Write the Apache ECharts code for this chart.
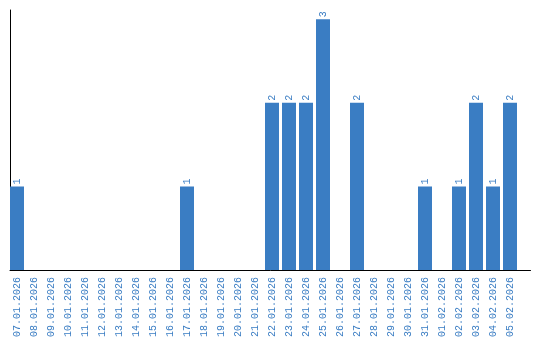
<!DOCTYPE html>
<html><head><meta charset="utf-8">
<script src="https://cdn.jsdelivr.net/npm/echarts@6/dist/echarts.min.js"></script>
<style>html,body{margin:0;padding:0;background:#fff}#c{width:540px;height:340px}</style>
</head><body><div id="c"></div>
<script>
const categories = ["07.01.2026","08.01.2026","09.01.2026","10.01.2026","11.01.2026","12.01.2026","13.01.2026","14.01.2026","15.01.2026","16.01.2026","17.01.2026","18.01.2026","19.01.2026","20.01.2026","21.01.2026","22.01.2026","23.01.2026","24.01.2026","25.01.2026","26.01.2026","27.01.2026","28.01.2026","29.01.2026","30.01.2026","31.01.2026","01.02.2026","02.02.2026","03.02.2026","04.02.2026","05.02.2026"];
const values = [1,0,0,0,0,0,0,0,0,0,1,0,0,0,0,2,2,2,3,0,2,0,0,0,1,0,1,2,1,2];

const blue = '#3a7dc3';
const font = '"Liberation Mono", monospace';
const chart = echarts.init(document.getElementById('c'), null, {renderer:'canvas'});
chart.setOption({
  animation:false,
  grid:[
    {left:8.5, width:510, top:10, bottom:70},
    {left:10, right:9.5, top:10, bottom:70}
  ],
  xAxis:[
    {type:'category', gridIndex:0, data:categories,
     axisLine:{show:false}, axisTick:{show:false},
     axisLabel:{rotate:90, interval:0, margin:7, color:blue, fontFamily:font, fontSize:10}},
    {type:'value', gridIndex:1, min:0, max:1, axisLine:{show:true, lineStyle:{color:'#000', width:1}},
     axisTick:{show:false}, axisLabel:{show:false}, splitLine:{show:false}}
  ],
  yAxis:[
    {type:'value', gridIndex:0, min:0, max:3.11, show:false, splitLine:{show:false}},
    {type:'value', gridIndex:1, min:0, max:1, axisLine:{show:true, lineStyle:{color:'#000', width:1}},
     axisTick:{show:false}, axisLabel:{show:false}, splitLine:{show:false}}
  ],
  series:[{
    type:'bar', xAxisIndex:0, yAxisIndex:0, data:values, barWidth:14,
    itemStyle:{color:blue},
    label:{show:true, position:'top', rotate:90, align:'left', verticalAlign:'middle', distance:2,
      color:blue, fontFamily:font, fontSize:10,
      formatter:p=>p.value>0?String(p.value):''}
  }]
});
</script></body></html>
